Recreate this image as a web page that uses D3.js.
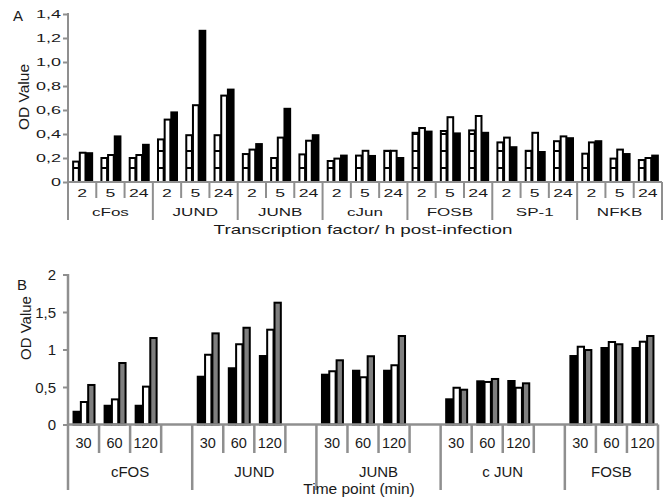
<!DOCTYPE html>
<html><head><meta charset="utf-8">
<script src="https://cdn.jsdelivr.net/npm/d3@7"></script>
<style>
html,body{margin:0;padding:0;background:#fff;}
svg{display:block;font-family:"Liberation Sans",Arial,sans-serif;}
</style></head>
<body>
<svg id="c" width="665" height="498"></svg>
<script>
// ---------- Panel A data ----------
const factorsA = ["cFos","JUND","JUNB","cJun","FOSB","SP-1","NFKB"];
const timesA = ["2","5","24"];
const stripedA = [0.17,0.20,0.20, 0.355,0.39,0.39, 0.233,0.20,0.23, 0.175,0.22,0.26, 0.41,0.425,0.43, 0.33,0.26,0.34, 0.236,0.195,0.183];
const whiteA   = [0.244,0.225,0.225, 0.52,0.64,0.72, 0.27,0.37,0.344, 0.195,0.26,0.26, 0.45,0.54,0.55, 0.37,0.41,0.38, 0.33,0.27,0.20];
const blackA   = [0.24,0.38,0.31, 0.58,1.26,0.77, 0.316,0.61,0.39, 0.22,0.217,0.20, 0.42,0.405,0.41, 0.29,0.25,0.365, 0.34,0.233,0.22];
const yTicksA = [0,0.2,0.4,0.6,0.8,1.0,1.2,1.4];
const yTickLabelsA = ["0","0,2","0,4","0,6","0,8","1,0","1,2","1,4"];

// ---------- Panel B data ----------
const factorsB = ["cFOS","JUND","JUNB","c JUN","FOSB"];
const timesB = ["30","60","120"];
const blackB = [0.17,0.25,0.25, 0.637,0.75,0.913, 0.664,0.717,0.717, 0.336,0.576,0.58, 0.913,1.02,1.02];
const whiteB = [0.30,0.335,0.505, 0.93,1.07,1.264, 0.71,0.63,0.79, 0.49,0.567,0.49, 1.037,1.10,1.104];
const grayB  = [0.527,0.82,1.153, 1.215,1.29,1.624, 0.856,0.91,1.18, 0.464,0.607,0.549, 0.993,1.07,1.18];
const yTicksB = [0,0.5,1,1.5,2];
const yTickLabelsB = ["0","0,5","1","1,5","2"];

const svg = d3.select("#c");
const AX = "#8f8f8f";
const defs = svg.append("defs");
const pat = defs.append("pattern").attr("id","stripes").attr("patternUnits","userSpaceOnUse")
  .attr("width",10).attr("height",17);
pat.append("rect").attr("width",10).attr("height",17).attr("fill","#fff");
pat.append("rect").attr("y",14).attr("width",10).attr("height",2).attr("fill","#000");

function stretchText(g, x, y, txt, size, sx, anchor){
  return g.append("text").attr("transform",`translate(${x},${y}) scale(${sx},1)`)
    .attr("text-anchor",anchor).attr("font-size",size).attr("fill","#1a1a1a").text(txt);
}

// ================= PANEL A =================
(function(){
  const g = svg.append("g");
  const x0 = 68, x1 = 662, base = 182;
  const y = d3.scaleLinear().domain([0,1.4]).range([base,14]);
  const keys = [];
  factorsA.forEach(f=>timesA.forEach(t=>keys.push(f+"|"+t)));
  const x = d3.scaleBand().domain(keys).range([x0,x1]).padding(0);
  const inner = d3.scaleBand().domain(["s","w","b"]).range([0,x.bandwidth()]).paddingInner(0).paddingOuter(0.62);

  const rows = keys.map((k,i)=>({k, s:stripedA[i], w:whiteA[i], b:blackA[i]}));
  const specs = [["s","url(#stripes)"],["w","#fff"],["b","#000"]];
  specs.forEach(([key,fill])=>{
    g.selectAll(null).data(rows).enter().append("rect")
      .attr("x",d=>x(d.k)+inner(key)+1)
      .attr("y",d=>y(d[key]))
      .attr("width",inner.bandwidth()-1)
      .attr("height",d=>base-y(d[key]))
      .attr("fill",fill).attr("stroke","#000").attr("stroke-width",2);
  });

  const ya = d3.axisLeft(y).tickValues(yTicksA).tickSize(5).tickFormat("");
  const yg = g.append("g").attr("transform",`translate(${x0},0)`).call(ya);
  yg.select(".domain").remove();
  yg.selectAll(".tick line").attr("stroke",AX).attr("stroke-width",2);
  yTicksA.forEach((v,i)=>stretchText(g,61,y(v)+4,yTickLabelsA[i],10,1.8,"end"));
  g.append("line").attr("x1",x0).attr("x2",x0).attr("y1",13).attr("y2",220).attr("stroke",AX).attr("stroke-width",2);
  g.append("line").attr("x1",x0).attr("x2",x1).attr("y1",base).attr("y2",base).attr("stroke",AX).attr("stroke-width",2);
  keys.forEach((k,i)=>{
    const xe = x(k)+x.bandwidth();
    const long = (i%3===2);
    g.append("line").attr("x1",xe).attr("x2",xe).attr("y1",base).attr("y2",long?220:198)
      .attr("stroke",AX).attr("stroke-width",2);
    stretchText(g, x(k)+x.bandwidth()/2, 197, k.split("|")[1], 11, 1.6, "middle");
  });
  factorsA.forEach((f,i)=>{
    const cx = x(f+"|5")+x.bandwidth()/2;
    stretchText(g,cx,216,f,11,1.55,"middle");
  });
  stretchText(g,363,234,"Transcription factor/ h post-infection",13,1.45,"middle");
  g.append("text").attr("transform","translate(29,97) rotate(-90)").attr("text-anchor","middle")
    .attr("font-size",15.5).attr("fill","#1a1a1a").text("OD Value");
  g.append("text").attr("x",13).attr("y",21).attr("font-size",15).attr("fill","#1a1a1a").text("A");
})();

// ================= PANEL B =================
(function(){
  const g = svg.append("g");
  const x0 = 68, x1 = 658, base = 424.5;
  const y = d3.scaleLinear().domain([0,2]).range([base,274.5]);
  const keys = [];
  factorsB.forEach((f,fi)=>{
    timesB.forEach(t=>keys.push(f+"|"+t));
    if(fi<factorsB.length-1) keys.push(f+"|gap");
  });
  const x = d3.scaleBand().domain(keys).range([x0,x1]).padding(0);
  const inner = d3.scaleBand().domain(["b","w","g"]).range([0,x.bandwidth()]).paddingInner(0).paddingOuter(0.62);
  const rows = [];
  factorsB.forEach((f,fi)=>timesB.forEach((t,ti)=>{
    const i = fi*3+ti;
    rows.push({k:f+"|"+t, b:blackB[i], w:whiteB[i], g:grayB[i]});
  }));
  [["b","#000"],["w","#fff"],["g","#7f7f7f"]].forEach(([key,fill])=>{
    g.selectAll(null).data(rows).enter().append("rect")
      .attr("x",d=>x(d.k)+inner(key)+1)
      .attr("y",d=>y(d[key]))
      .attr("width",inner.bandwidth()-1)
      .attr("height",d=>base-y(d[key]))
      .attr("fill",fill).attr("stroke","#000").attr("stroke-width",2);
  });

  const ya = d3.axisLeft(y).tickValues(yTicksB).tickSize(5).tickFormat("");
  const yg = g.append("g").attr("transform",`translate(${x0},0)`).call(ya);
  yg.select(".domain").remove();
  yg.selectAll(".tick line").attr("stroke",AX).attr("stroke-width",2);
  yTicksB.forEach((v,i)=>{
    g.append("text").attr("x",56).attr("y",y(v)+5.5).attr("text-anchor","end")
      .attr("font-size",15).attr("fill","#1a1a1a").text(yTickLabelsB[i]);
  });
  g.append("line").attr("x1",x0).attr("x2",x0).attr("y1",274).attr("y2",490).attr("stroke",AX).attr("stroke-width",2.5);
  g.append("line").attr("x1",x0).attr("x2",x1).attr("y1",base).attr("y2",base).attr("stroke",AX).attr("stroke-width",2.5);
  keys.forEach((k,i)=>{
    const xe = x(k)+x.bandwidth();
    const long = k.endsWith("|gap") || i===keys.length-1;
    g.append("line").attr("x1",xe).attr("x2",xe).attr("y1",base).attr("y2",long?490:453)
      .attr("stroke",AX).attr("stroke-width",2.5);
    const t = k.split("|")[1];
    if(t!=="gap"){
      g.append("text").attr("x",x(k)+x.bandwidth()/2).attr("y",448).attr("text-anchor","middle")
        .attr("font-size",14.5).attr("fill","#1a1a1a").text(t);
    }
  });
  factorsB.forEach((f,fi)=>{
    const a = x(f+"|30");
    const last = (fi===factorsB.length-1) ? f+"|120" : f+"|gap";
    const b = x(last)+x.bandwidth();
    g.append("text").attr("x",(a+b)/2).attr("y",477).attr("text-anchor","middle")
      .attr("font-size",15).attr("fill","#1a1a1a").text(f);
  });
  g.append("text").attr("x",359).attr("y",494).attr("text-anchor","middle")
    .attr("font-size",15.5).attr("fill","#1a1a1a").text("Time point (min)");
  g.append("text").attr("transform","translate(31,328) rotate(-90)").attr("text-anchor","middle")
    .attr("font-size",15).attr("fill","#1a1a1a").text("OD Value");
  g.append("text").attr("x",17).attr("y",290).attr("font-size",15).attr("fill","#1a1a1a").text("B");
})();
</script>
</body></html>
